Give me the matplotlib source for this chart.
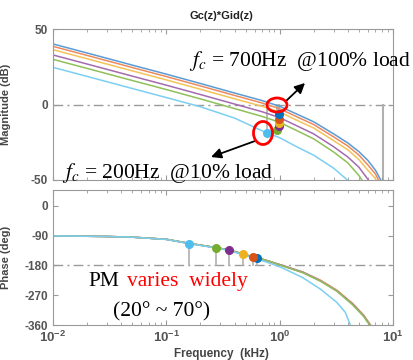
import matplotlib
matplotlib.use("Agg")
import matplotlib.pyplot as plt
from matplotlib.patches import Ellipse
from matplotlib.transforms import IdentityTransform

plt.rcParams['mathtext.fontset'] = 'custom'
plt.rcParams['mathtext.rm'] = 'Liberation Sans'
plt.rcParams['mathtext.bf'] = 'Liberation Sans:bold'

# ---- data (kHz, dB, deg) ----
colors = ["#0072BD", "#D95319", "#EDB120", "#7E2F8E", "#77AC30", "#4DBEEE"]
line_colors = ["#5b9bd5", "#ec8a5e", "#f3c35a", "#a36bb0", "#8fc05a", "#7ccff2"]

mag_freq = [0.01, 0.02, 0.05, 0.1, 0.2, 0.4, 0.7, 1.0, 1.5, 2.0, 3.0, 4.0, 5.0, 6.0, 7.0, 7.8, 8.2]
mag_blue = [40.1, 34.1, 26.1, 20.1, 13.9, 7.6, 2.6, -1.2, -7.2, -11.5, -19.5, -25.5, -31.2, -37.0, -43.5, -50.0, -60]
mag_orange = [38.5, 32.5, 24.5, 18.5, 12.3, 6.0, 1.0, -2.8, -9.0, -13.3, -21.5, -27.5, -33.5, -40.0, -46.0, -53.0, -65]
mag_yellow = [36.3, 30.3, 22.3, 16.3, 10.1, 3.8, -1.2, -5.0, -11.3, -15.6, -24.0, -30.0, -36.5, -43.5, -49.0, -58, -70]
mag_purple = [32.8, 26.8, 18.8, 12.8, 6.6, 0.3, -4.8, -8.7, -15.0, -19.5, -28.0, -34.8, -41.5, -49.5, -58, -66, -75]
mag_green = [29.9, 23.9, 15.9, 9.9, 3.7, -2.7, -7.9, -11.8, -18.2, -22.8, -31.5, -38.7, -47.0, -56, -65, -72, -80]
mag_lblue = [24.6, 18.6, 10.6, 4.6, -1.5, -9.0, -17.4, -22.0, -29.0, -33.6, -42.2, -50.3, -62, -72, -80, -85, -90]

ph_freq = [0.01, 0.03, 0.05, 0.1, 0.157, 0.272, 0.356, 0.47, 0.58, 0.636, 0.8, 1.05, 1.6, 2.3, 3.2, 4.4, 5.5, 6.3, 7.0]
ph_blue = [-90.5, -92.5, -94.5, -101, -113, -126, -133, -145, -154, -157, -167, -180, -200, -226, -256, -296, -331, -360, -385]
ph_orange = [-90.5, -92.5, -94.5, -101, -113, -126, -133, -145, -154, -157, -167, -180, -200, -225, -255, -295, -330, -359, -384]
ph_yellow = [-90.5, -92.5, -94.5, -101, -113, -126, -133, -145, -154, -157, -167, -180, -201, -226, -256, -296, -331, -360, -385]
ph_purple = [-90.5, -92.5, -94.5, -101, -113, -126, -133, -145, -154, -157, -167, -180, -201, -227, -257, -297, -332, -361, -386]
ph_green = [-90.5, -92.5, -94.5, -101, -113, -126, -133, -145, -154, -157, -167, -181, -202, -228, -258, -299, -334, -363, -388]
lb_ph_freq = [0.01, 0.03, 0.05, 0.1, 0.157, 0.272, 0.356, 0.47, 0.58, 0.636, 0.8, 1.05, 1.6, 2.3, 3.2, 3.8, 4.2, 4.6]
ph_lblue = [-90.5, -92.5, -94.5, -101.5, -113.5, -127, -135, -147, -157, -161, -172, -187, -217, -252, -292, -322, -360, -390]

gm_freq = [0.98, 0.98, 0.98, 0.98, 0.95, 0.77]
gm_db = [-6.5, -9.5, -12, -14.3, -17, -19]
pm_freq = [0.636, 0.58, 0.47, 0.356, 0.272, 0.157]
pm_phase = [-157, -154, -145, -133, -126, -114]
nyq_freq = 8.2

mags = [mag_blue, mag_orange, mag_yellow, mag_purple, mag_green, mag_lblue]
phases = [ph_blue, ph_orange, ph_yellow, ph_purple, ph_green, ph_lblue]
ph_freqs = [ph_freq] * 5 + [lb_ph_freq]

W, H = 414, 360
fig = plt.figure(figsize=(W / 100, H / 100), dpi=100)
ax1 = fig.add_axes([53 / W, 1 - 180 / H, 340 / W, 151 / H])
ax2 = fig.add_axes([53 / W, 1 - 325 / H, 340 / W, 135 / H])

grey = "#9a9a9a"
stem = "#b0b0b0"
lab = "#555555"

# magnitude
ax1.axhline(0, color=grey, ls=(0, (7, 3, 1.5, 3)), lw=1, zorder=1)
ax1.plot([nyq_freq, nyq_freq], [0, -50], color=stem, lw=1.5, zorder=1)
for f, d in zip(gm_freq, gm_db):
    ax1.plot([f, f], [0, d], color=stem, lw=1.2, zorder=1)
for m, c in zip(mags, line_colors):
    ax1.plot(mag_freq, m, color=c, lw=1.1, zorder=2)
for f, d, c in zip(gm_freq[::-1], gm_db[::-1], colors[::-1]):
    ax1.plot(f, d, "o", color=c, ms=5.5, zorder=3)

# phase
ax2.axhline(-180, color=grey, ls=(0, (7, 3, 1.5, 3)), lw=1, zorder=1)
for f, p in zip(pm_freq, pm_phase):
    ax2.plot([f, f], [-180, p], color=stem, lw=1.2, zorder=1)
for fr, p, c in zip(ph_freqs, phases, line_colors):
    ax2.plot(fr, p, color=c, lw=1.1, zorder=2)
for f, p, c in zip(pm_freq, pm_phase, colors):
    ax2.plot(f, p, "o", color=c, ms=5.5, zorder=3)

for ax in (ax1, ax2):
    ax.set_xscale("log")
    ax.set_xlim(0.01, 10)
    ax.tick_params(which="both", direction="in", top=True, right=True,
                   colors=grey, labelcolor=lab, labelsize=8)
    ax.tick_params(which="major", length=3.5)
    ax.tick_params(which="minor", length=2)
    for s in ax.spines.values():
        s.set_color(grey)

ax1.set_ylim(-50, 50)
ax1.set_yticks([-50, 0, 50])
ax1.set_yticklabels(["-50", "0", "50"], fontweight="bold", family="Liberation Sans", fontsize=8.5)
ax1.tick_params(which="both", labelbottom=False)

ax2.set_ylim(-360, 48)
ax2.set_yticks([0, -90, -180, -270, -360])
ax2.set_yticklabels(["0", "-90", "-180", "-270", "-360"], fontweight="bold", family="Liberation Sans", fontsize=8.5)
ax2.set_xticks([0.01, 0.1, 1, 10])
ax2.set_xticklabels([r"$\mathbf{10^{-2}}$", r"$\mathbf{10^{-1}}$", r"$\mathbf{10^{0}}$", r"$\mathbf{10^{1}}$"],
                    fontsize=9.5, math_fontfamily="custom")

ax1.set_ylabel("Magnitude (dB)", fontsize=8, fontweight="bold", color="#444444", family="Liberation Sans")
ax2.set_ylabel("Phase (deg)", fontsize=8, fontweight="bold", color="#444444", family="Liberation Sans")
ax1.yaxis.set_label_coords(-0.125, 0.5)
ax2.yaxis.set_label_coords(-0.125, 0.5)
fig.text(221 / W, 1 - 16 / H, "Gc(z)*Gid(z)", ha="center", va="center", fontsize=8,
         fontweight="bold", color="#222222", family="Liberation Sans")
fig.text(221 / W, 0.5 / H, "Frequency  (kHz)", ha="center", va="bottom", fontsize=8.5,
         fontweight="bold", color="#444444", family="Liberation Sans")

# annotations
serif = "Liberation Serif"
fig.text(189 / W, 1 - 66 / H, r"$f_c$ = 700Hz  @100% load", fontsize=15.5, family=serif,
         math_fontfamily="stix", va="baseline")
fig.text(62 / W, 1 - 178 / H, r"$f_c$ = 200Hz  @10% load", fontsize=15.5, family=serif,
         math_fontfamily="stix", va="baseline")
fig.text(88 / W, 1 - 286 / H, "PM", fontsize=15.5, family=serif, va="baseline")
fig.text(127 / W, 1 - 286 / H, "varies  widely", fontsize=15.5, family=serif, color="red", va="baseline")
fig.text(113 / W, 1 - 316 / H, "(20° ~ 70°)", fontsize=15.5, family=serif, va="baseline")

idt = IdentityTransform()
fig.add_artist(Ellipse((277, H - 105), 20, 14, transform=idt, fill=False, ec="red", lw=2, zorder=10))
fig.add_artist(Ellipse((263, H - 133), 19, 23, transform=idt, fill=False, ec="red", lw=2, zorder=10))
arrow = dict(arrowstyle="-|>", color="black", lw=1.3, mutation_scale=15, shrinkA=0, shrinkB=0)
ax1.annotate("", xy=(305, H - 83), xytext=(286, H - 101), xycoords="figure pixels",
             textcoords="figure pixels", arrowprops=arrow)
ax1.annotate("", xy=(211, H - 157), xytext=(255, H - 141), xycoords="figure pixels",
             textcoords="figure pixels", arrowprops=arrow)

fig.savefig("out.png", dpi=100)
